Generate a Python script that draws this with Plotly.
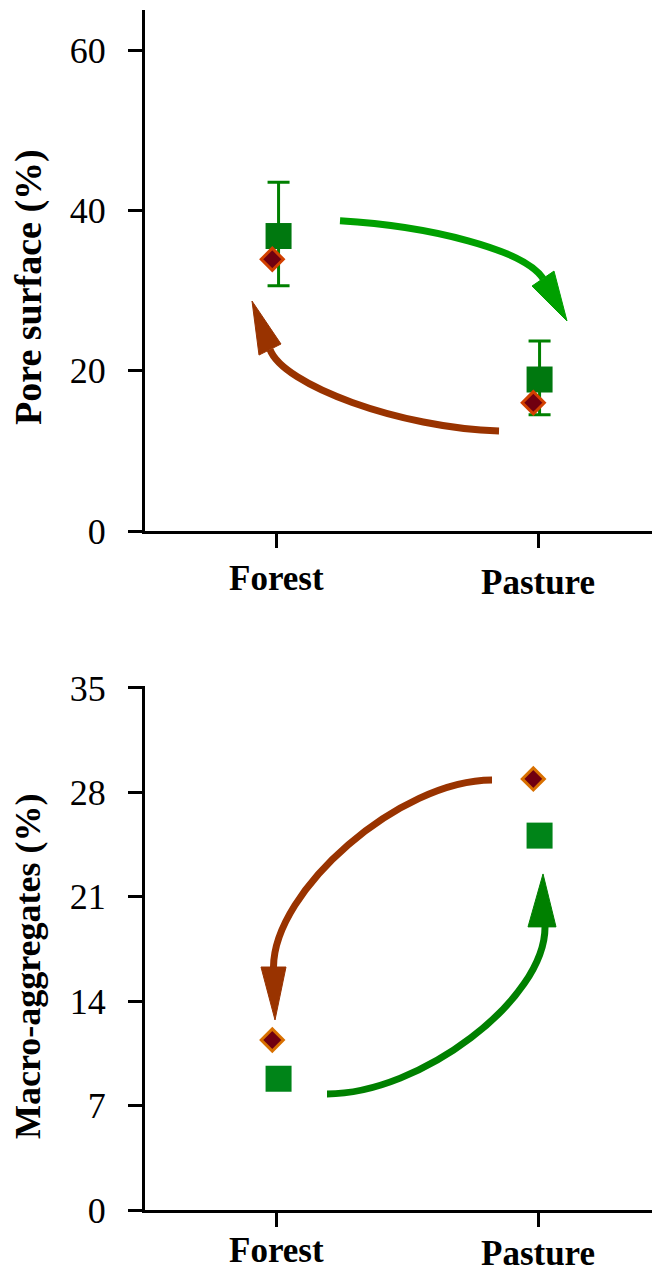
import plotly.graph_objects as go

# ---------------- data ----------------
categories = ["Forest", "Pasture"]
cat_pos = [0, 1]

pore_square = [36.8, 18.9]
pore_square_err_plus = [6.7, 4.8]
pore_square_err_minus = [6.2, 4.4]
pore_diamond = [33.9, 16.0]

macro_square = [8.8, 25.1]
macro_diamond = [11.4, 28.9]

pore_ticks = [0, 20, 40, 60]
macro_ticks = [0, 7, 14, 21, 28, 35]

# ---------------- styles ----------------
SQ_OFF = 0.006
DI_OFF = -0.018
GREEN_SQ_TOP = "#00780f"
GREEN_SQ_BOT = "#008418"
DIAMOND_FILL = "#700010"
DIAMOND_LINE_TOP = "#d24000"
DIAMOND_LINE_BOT = "#d87000"
ARROW_GREEN_TOP = "#00a000"
ARROW_GREEN_BOT = "#008000"
ARROW_BROWN = "#993300"
FONT = "Liberation Serif"

fig = go.Figure()

# top panel
fig.add_trace(go.Scatter(
    x=[p + SQ_OFF for p in cat_pos], y=pore_square, mode="markers",
    marker=dict(symbol="square", size=26, color=GREEN_SQ_TOP, line=dict(width=0)),
    error_y=dict(type="data", array=pore_square_err_plus, arrayminus=pore_square_err_minus,
                 color="#008000", thickness=3, width=11),
    xaxis="x", yaxis="y", showlegend=False))
fig.add_trace(go.Scatter(
    x=[p + DI_OFF for p in cat_pos], y=pore_diamond, mode="markers",
    marker=dict(symbol="diamond", size=17, color=DIAMOND_FILL,
                line=dict(width=3, color=DIAMOND_LINE_TOP)),
    xaxis="x", yaxis="y", showlegend=False))

# bottom panel
fig.add_trace(go.Scatter(
    x=[p + SQ_OFF for p in cat_pos], y=macro_square, mode="markers",
    marker=dict(symbol="square", size=26, color=GREEN_SQ_BOT, line=dict(width=0)),
    xaxis="x2", yaxis="y2", showlegend=False))
fig.add_trace(go.Scatter(
    x=[p + DI_OFF for p in cat_pos], y=macro_diamond, mode="markers",
    marker=dict(symbol="diamond", size=17, color=DIAMOND_FILL,
                line=dict(width=3, color=DIAMOND_LINE_BOT)),
    xaxis="x2", yaxis="y2", showlegend=False))

# ---------------- curved arrows (data units) ----------------
def curve(xr, yr, s, c1, c2, e, color):
    fig.add_shape(type="path", xref=xr, yref=yr,
                  path=f"M {s[0]},{s[1]} C {c1[0]},{c1[1]} {c2[0]},{c2[1]} {e[0]},{e[1]}",
                  line=dict(color=color, width=7), fillcolor="rgba(0,0,0,0)", layer="below")

def head(xr, yr, b1, b2, tip, color):
    fig.add_shape(type="path", xref=xr, yref=yr,
                  path=f"M {b1[0]},{b1[1]} L {tip[0]},{tip[1]} L {b2[0]},{b2[1]} Z",
                  line=dict(color=color, width=1), fillcolor=color, layer="below")

# top: green Forest -> Pasture
curve("x", "y", (0.2414, 38.71), (0.5862, 38.05), (0.9464, 35.11), (1.0192, 31.50), ARROW_GREEN_TOP)
head("x", "y", (0.9770, 30.56), (1.0613, 32.43), (1.1111, 26.20), ARROW_GREEN_TOP)
# top: brown Pasture -> Forest
curve("x", "y", (0.8506, 12.47), (0.4713, 12.85), (0.0230, 18.21), (-0.0268, 22.64), ARROW_BROWN)
head("x", "y", (-0.0689, 21.95), (0.0154, 23.33), (-0.0957, 28.69), ARROW_BROWN)
# bottom: brown Pasture -> Forest
curve("x2", "y2", (0.8238, 28.83), (0.4713, 28.83), (-0.0114, 21.46), (-0.0134, 16.29), ARROW_BROWN)
head("x2", "y2", (-0.0613, 16.29), (0.0345, 16.29), (-0.0076, 12.74), ARROW_BROWN)
# bottom: green Forest -> Pasture
curve("x2", "y2", (0.1916, 7.78), (0.5479, 7.78), (1.0269, 14.08), (1.0269, 18.98), ARROW_GREEN_BOT)
head("x2", "y2", (0.9617, 18.98), (1.0690, 18.98), (1.0192, 22.53), ARROW_GREEN_BOT)

# ---------------- axes ----------------
# page body has an 8px margin, so the figure is 8px smaller than the window
OFF = 8
W = 660 - OFF
H = 1273 - OFF
xcommon = dict(range=[-0.5057, 1.4674], tickvals=cat_pos, showticklabels=False,
               showline=True, linecolor="black", linewidth=3, ticks="outside",
               ticklen=14, tickwidth=3, tickcolor="black", showgrid=False, zeroline=False,
               automargin=False)
ycommon = dict(showline=True, linecolor="black", linewidth=3, ticks="outside",
               ticklen=14, tickwidth=3, tickcolor="black", showgrid=False, zeroline=False,
               tickfont=dict(family=FONT, size=36, color="black"), ticklabelstandoff=15,
               automargin=False)

def ydom(top_px, bot_px):
    return [1 - (bot_px - OFF) / H, 1 - (top_px - OFF) / H]

def ypaper(px):
    return 1 - (px - OFF) / H

annotations = [
    dict(text="<b>Pore surface (%)</b>", textangle=-90, xref="paper", yref="paper",
         x=(28 - 145) / 515, y=ypaper(287), xanchor="center", yanchor="middle",
         showarrow=False, font=dict(family=FONT, size=38, color="black")),
    dict(text="<b>Macro-aggregates (%)</b>", textangle=-90, xref="paper", yref="paper",
         x=(28 - 145) / 515, y=ypaper(966), xanchor="center", yanchor="middle",
         showarrow=False, font=dict(family=FONT, size=36, color="black")),
]
# category labels (slightly staggered as in the original)
label_rows = [("x", [578, 582]), ("x2", [1250, 1253])]
for xr, ys in label_rows:
    for cat, pos, ypx in zip(categories, cat_pos, ys):
        annotations.append(dict(text=f"<b>{cat}</b>", xref=xr, yref="paper", x=pos,
                                y=ypaper(ypx), xanchor="center", yanchor="middle",
                                showarrow=False,
                                font=dict(family=FONT, size=35, color="black")))

fig.update_layout(
    width=W, height=H,
    margin=dict(l=145 - OFF, r=0, t=0, b=0, autoexpand=False),
    paper_bgcolor="white", plot_bgcolor="white",
    xaxis=dict(**xcommon, domain=[0, 1], anchor="y"),
    yaxis=dict(**ycommon, domain=ydom(10, 531), range=[0, 65],
               tickvals=pore_ticks, anchor="x"),
    xaxis2=dict(**xcommon, domain=[0, 1], anchor="y2"),
    yaxis2=dict(**ycommon, domain=ydom(686, 1210), range=[0, 35.13],
                tickvals=macro_ticks, anchor="x2"),
    annotations=annotations,
)

fig.write_html("out.html")
